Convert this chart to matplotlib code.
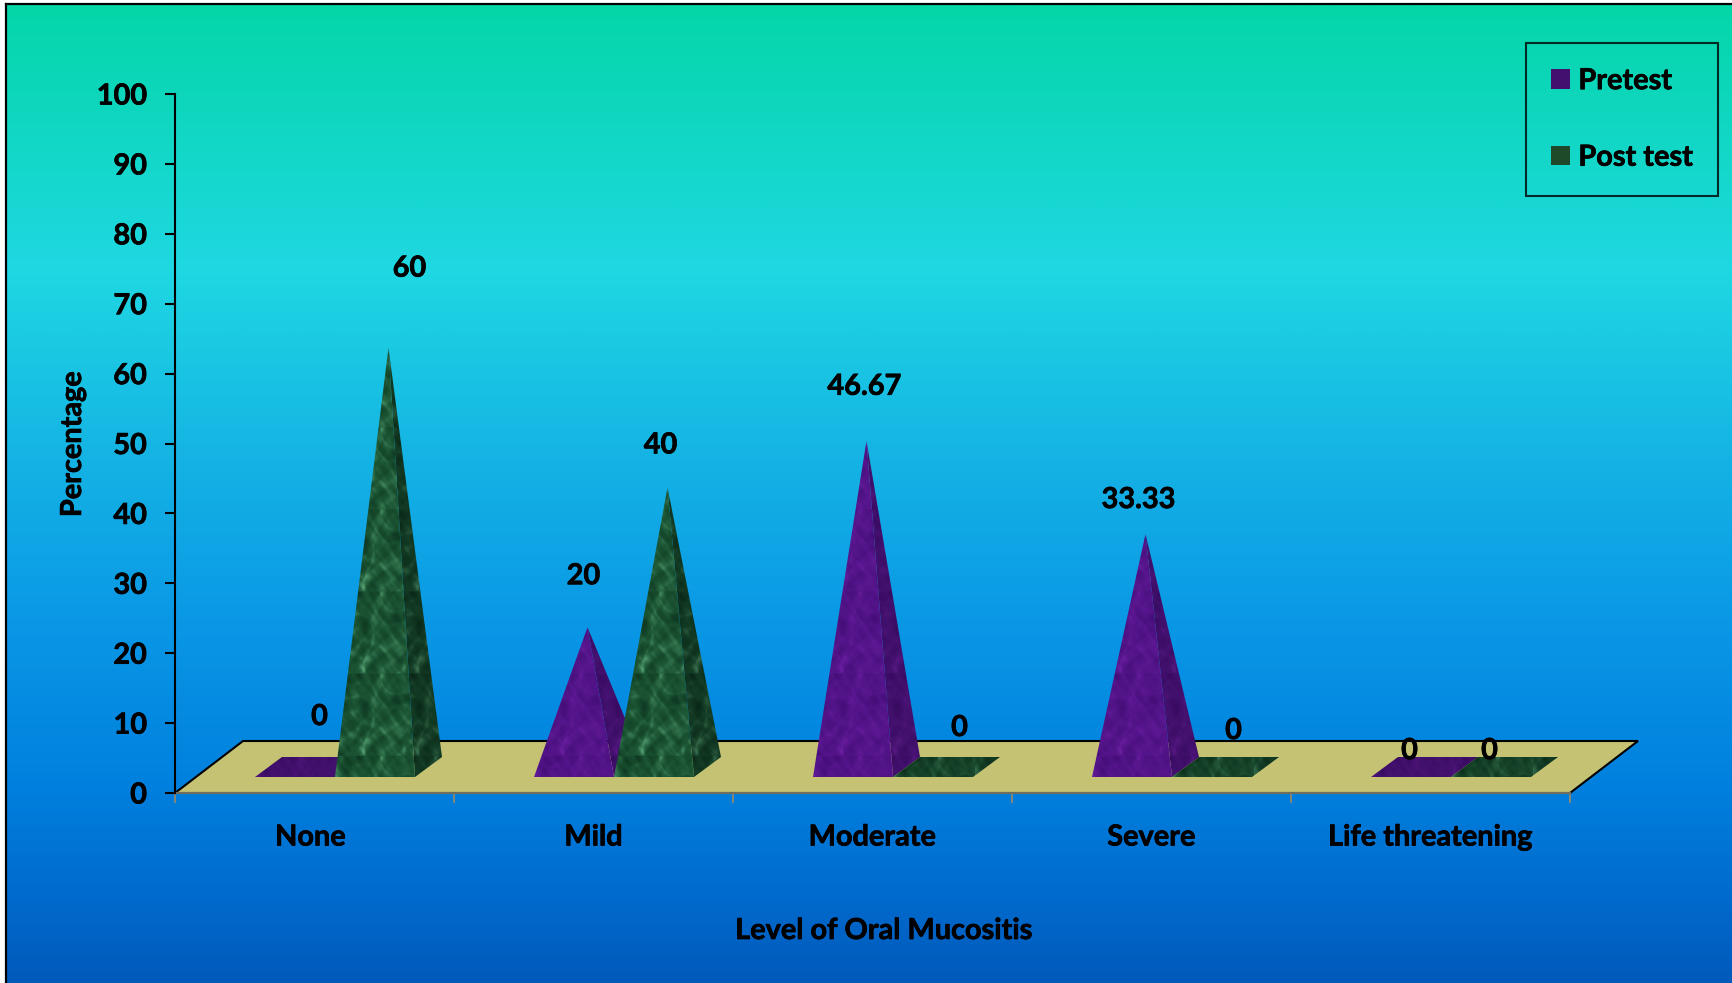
import numpy as np
import matplotlib
matplotlib.use('Agg')
import matplotlib.pyplot as plt
import matplotlib.patheffects as pe
from matplotlib.patches import Polygon, Patch
from matplotlib.colors import LinearSegmentedColormap
from matplotlib.text import Text
from matplotlib.transforms import ScaledTranslation

plt.rcParams['font.family'] = ['Lato', 'DejaVu Sans']
plt.rcParams['font.weight'] = 'bold'

categories = ['None', 'Mild', 'Moderate', 'Severe', 'Life threatening']
pretest = [0, 20, 46.67, 33.33, 0]
post_test = [60, 40, 0, 0, 0]
pretest_labels = ['0', '20', '46.67', '33.33', '0']
post_test_labels = ['60', '40', '0', '0', '0']
y_ticks = [0, 10, 20, 30, 40, 50, 60, 70, 80, 90, 100]

# label offsets from the tip of each pyramid, in pixels
pretest_offsets = [(11, 50), (-4, 51), (-2, 54), (-7, 34), (-15, 16)]
post_test_offsets = [(21, 79), (-7, 42), (13, 39), (8, 36), (-15, 16)]

# figure size and plot box, in pixels of the picture
W, H = 1732, 983
AX_L, AX_R, AX_T, AX_B = 175, 1570, 94, 793
PX_X = (AX_R - AX_L) / len(categories)
PX_Y = (AX_B - AX_T) / 100
FONT = 20.8

bar_w = 80 / PX_X
bar_start = 80 / PX_X
depth_x = 27 / PX_X
depth_y = 20 / PX_Y
front_y = 16 / PX_Y
floor_dx = 68 / PX_X
floor_dy = 52 / PX_Y
tile_w = 82 / PX_X
tile_h = 82 / PX_Y

# direction, phase and weight of the waves that make up the marble
waves = [(1.3, -0.8, 0.1, 1.0), (2.1, 1.7, 0.7, 0.9), (-3.2, 2.3, 0.4, 0.7),
         (4.7, 3.1, 0.2, 0.5), (-5.3, 6.1, 0.9, 0.45), (7.9, -4.3, 0.3, 0.35),
         (9.1, 8.3, 0.6, 0.25), (-11.7, 7.7, 0.5, 0.2), (13.3, -12.1, 0.8, 0.15)]


def marble_tile(dark, mid, light, n=82):
    # mottled tile, seams show up when it is repeated
    v, u = np.mgrid[0:1:n * 1j, 0:1:n * 1j]
    warp = 0.4 * np.sin(2 * np.pi * (1.1 * v + 0.2)) + 0.3 * np.sin(2 * np.pi * (1.7 * u + 0.5 * v))
    t = np.zeros_like(u)
    for kx, ky, phase, weight in waves:
        t += weight * np.sin(2 * np.pi * (kx * u + ky * v + phase + 0.8 * warp))
    t = t / np.abs(t).max()
    # soft bright veins and a lighter band along the lower edge of the tile
    vein = np.exp(-(np.sin(2 * np.pi * (1.4 * u - 0.9 * v + 0.7 * warp)) / 0.4) ** 2)
    band = np.exp(-((v - 0.9) / 0.09) ** 2) * (0.5 + 0.5 * np.sin(2 * np.pi * (3.1 * u + 0.3)))
    t = np.clip(0.85 * t + 0.3 * vein + 0.45 * band, -1, 1)[..., None]
    dark, mid, light = np.array(dark), np.array(mid), np.array(light)
    img = np.where(t > 0, mid + t ** 1.4 * (light - mid), mid + (-t) * (dark - mid))
    return img / 255


purple_tile = marble_tile((66, 12, 116), (82, 20, 136), (106, 30, 160))
green_tile = marble_tile((12, 50, 30), (26, 82, 50), (80, 155, 110))


def fill_face(ax, verts, tile, shade=1.0, zorder=3):
    verts = np.array(verts)
    x0, y0 = verts.min(axis=0)
    x1, y1 = verts.max(axis=0)
    # tile rows are counted from the pyramid base so the seams sit level
    y_start = front_y - tile_h * 0.74
    rows = int(np.ceil((y1 - y_start) / tile_h))
    cols = int(np.ceil((x1 - x0) / tile_w))
    img = np.tile(tile, (rows, cols, 1)) * shade
    im = ax.imshow(img, extent=(x0, x0 + cols * tile_w, y_start, y_start + rows * tile_h),
                   origin='upper', aspect='auto', interpolation='bilinear', zorder=zorder)
    clip = Polygon(verts, closed=True, transform=ax.transData)
    im.set_clip_path(clip)


def pyramid(ax, x, value, tile, side_shade, zorder):
    fl = (x, front_y)
    fr = (x + bar_w, front_y)
    br = (x + bar_w + depth_x, front_y + depth_y)
    bl = (x + depth_x, front_y + depth_y)
    tip = (x + (bar_w + depth_x) / 2, front_y + depth_y / 2 + value)
    if value == 0:
        fill_face(ax, [fl, fr, br, bl], tile, 0.8, zorder)
    else:
        fill_face(ax, [fr, br, tip], tile, side_shade, zorder)
        fill_face(ax, [fl, fr, tip], tile, 1.0, zorder)
    return tip


fig = plt.figure(figsize=(W / 100, H / 100), dpi=100, facecolor='white')

# gradient background with the black line on the top and left
bg = fig.add_axes([6 / W, 0, 1 - 6 / W, 1 - 4 / H], zorder=0)
grad = LinearSegmentedColormap.from_list('bg', [
    (0.0, '#04d6a8'), (0.27, '#1fd8e2'), (0.46, '#15b4e4'), (0.63, '#0a98e6'),
    (0.80, '#0080de'), (0.90, '#006dd0'), (1.0, '#005abb')])
bg.imshow(np.linspace(0, 1, 512)[:, None], cmap=grad, aspect='auto', vmin=0, vmax=1)
bg.set_xticks([])
bg.set_yticks([])
for side in ['right', 'bottom']:
    bg.spines[side].set_visible(False)
for side in ['top', 'left']:
    bg.spines[side].set_linewidth(1.6)

ax = fig.add_axes([AX_L / W, 1 - AX_B / H, (AX_R - AX_L) / W, (AX_B - AX_T) / H], zorder=1)
ax.patch.set_visible(False)
n = len(categories)

# floor of the 3d chart
floor = Polygon([(0, 0), (n, 0), (n + floor_dx, floor_dy), (floor_dx, floor_dy)], closed=True,
                facecolor='#c5c273', edgecolor='none', clip_on=False, zorder=1)
ax.add_patch(floor)
ax.plot([0, floor_dx, n + floor_dx, n], [0, floor_dy, floor_dy, 0], color='black', lw=1.5,
        clip_on=False, zorder=2, solid_joinstyle='miter')
ax.plot([0, n], [0, 0], color='#6f6f60', lw=1.6, clip_on=False, zorder=2)

for i in range(n):
    x = i + bar_start
    tip = pyramid(ax, x, pretest[i], purple_tile, 0.8, 3 + i)
    ax.annotate(pretest_labels[i], xy=tip, xytext=pretest_offsets[i], textcoords='offset pixels',
                ha='center', va='center', fontsize=FONT, zorder=20, annotation_clip=False)
    tip = pyramid(ax, x + bar_w, post_test[i], green_tile, 0.7, 3 + i)
    ax.annotate(post_test_labels[i], xy=tip, xytext=post_test_offsets[i], textcoords='offset pixels',
                ha='center', va='center', fontsize=FONT, zorder=20, annotation_clip=False)

ax.set_xlim(0, n)
ax.set_ylim(0, 100)
ax.set_xticks(range(n + 1))
ax.set_xticklabels([])
ax.tick_params(axis='x', which='major', length=7, width=1.3, color='#8f8a70')
ax.set_xticks(np.arange(n) + 0.5, minor=True)
ax.set_xticklabels(categories, minor=True, fontsize=FONT, fontweight='bold')
ax.tick_params(axis='x', which='minor', length=0, pad=22.7)
ax.set_yticks(y_ticks)
ax.tick_params(axis='y', length=7.2, width=1.5, pad=13, labelsize=FONT)
for side in ['top', 'right', 'bottom']:
    ax.spines[side].set_visible(False)
ax.spines['left'].set_linewidth(1.5)

# the first label sits a little left of its group
first = ax.get_xticklabels(minor=True)[0]
first.set_transform(first.get_transform() + ScaledTranslation(-4 / 100, 0, fig.dpi_scale_trans))

fig.text(73 / W, 1 - 444 / H, 'Percentage', rotation=90, ha='center', va='center', fontsize=FONT, zorder=5)
fig.text(884 / W, 1 - 931 / H, 'Level of Oral Mucositis', ha='center', va='center', fontsize=FONT, zorder=5)

handles = [Patch(facecolor='#431070', edgecolor='none', label='Pretest'),
           Patch(facecolor='#1f4a2a', edgecolor='none', label='Post test')]
leg = ax.legend(handles=handles, loc='upper right', bbox_to_anchor=(1718 / W, 1 - 43 / H),
                bbox_transform=fig.transFigure, fontsize=FONT, frameon=True, fancybox=False,
                facecolor='none', edgecolor='black', framealpha=None, borderpad=0.87, borderaxespad=0,
                handlelength=0.65, handleheight=0.65, handletextpad=0.3, labelspacing=1.75)
leg.get_frame().set_linewidth(1.5)
leg.set_zorder(30)

# the reference text is a heavy bold, thicken it slightly
for txt in fig.findobj(Text):
    txt.set_path_effects([pe.withStroke(linewidth=0.5, foreground='black')])

fig.savefig('out.png', dpi=100)
